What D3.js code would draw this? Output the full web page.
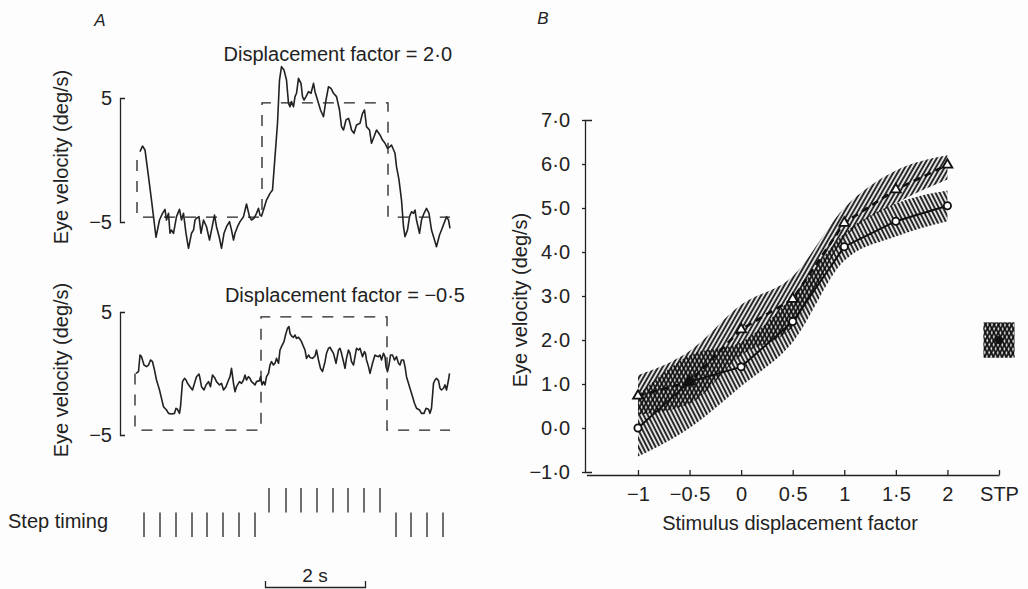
<!DOCTYPE html>
<html><head><meta charset="utf-8">
<script src="https://cdn.jsdelivr.net/npm/d3@7"></script>
<style>
html,body{margin:0;padding:0;background:#fdfdfd;}
svg{display:block;font-family:"Liberation Sans",Arial,Helvetica,sans-serif;}
text{fill:#222;}
</style></head>
<body>
<svg id="chart" width="1028" height="589"></svg>
<script>
// ---------- Panel A data ----------
const traceTopT = [0.10,0.15,0.20,0.27,0.33,0.37,0.42,0.49,0.55,0.60,0.63,0.67,0.70,0.73,0.77,0.83,0.89,0.93,0.97,1.02,1.07,1.13,1.17,1.20,1.23,1.28,1.32,1.37,1.43,1.49,1.53,1.59,1.63,1.69,1.73,1.78,1.83,1.89,1.93,1.97,2.00,2.05,2.10,2.17,2.23,2.29,2.33,2.38,2.43,2.47,2.50,2.53,2.57,2.63,2.70,2.75,2.80,2.85,2.89,2.93,2.98,3.03,3.07,3.10,3.13,3.17,3.20,3.23,3.27,3.32,3.35,3.38,3.42,3.47,3.52,3.57,3.60,3.67,3.71,3.77,3.82,3.87,3.92,3.97,4.03,4.09,4.13,4.17,4.22,4.27,4.30,4.33,4.38,4.43,4.50,4.55,4.59,4.63,4.69,4.73,4.78,4.83,4.90,4.95,5.00,5.05,5.10,5.13,5.20,5.23,5.28,5.33,5.37,5.40,5.45,5.49,5.53,5.57,5.60,5.63,5.69,5.73,5.78,5.83,5.88,5.93,5.98,6.03,6.09,6.13,6.18,6.23,6.27,6.30];
const traceTopV = [0.67,1.13,0.81,-1.34,-3.23,-4.57,-6.23,-4.84,-4.3,-3.98,-4.84,-4.3,-5.91,-5.65,-5.91,-4.57,-3.98,-4.84,-4.3,-5.91,-7.12,-5.91,-5.65,-4.84,-4.7,-4.57,-5.91,-4.84,-5.38,-6.45,-5.65,-4.44,-5.38,-6.31,-7.12,-5.91,-5.38,-4.97,-5.65,-6.45,-5.91,-5.38,-4.97,-4.57,-3.55,-4.57,-4.84,-4.7,-4.3,-3.9,-4.44,-4.52,-4.03,-3.23,-2.69,-2.42,0.27,2.96,6.45,7.53,7.26,6.45,4.57,4.3,4.71,4.3,5.11,5.38,6.59,6.18,5.11,4.84,5.11,5.51,5.38,6.18,5.51,4.57,4.03,3.49,4.84,5.91,5.78,5.38,5.11,4.03,2.69,2.42,3.23,3.36,2.96,2.42,2.15,2.82,2.96,3.76,4.03,2.69,2.42,1.35,1.88,2.42,2.02,1.61,1.35,0.94,1.08,1.21,0.54,-0.54,-1.61,-3.23,-5.38,-6.18,-5.65,-4.57,-4.17,-4.3,-4.03,-4.84,-5.91,-4.84,-4.3,-3.9,-4.3,-5.65,-6.31,-6.99,-6.05,-5.65,-5.11,-4.57,-4.84,-5.51];

const traceBotT = [0.02,0.07,0.10,0.13,0.18,0.23,0.27,0.31,0.35,0.39,0.43,0.49,0.53,0.57,0.63,0.67,0.73,0.79,0.82,0.85,0.89,0.91,0.95,0.99,1.02,1.05,1.10,1.15,1.19,1.23,1.28,1.30,1.33,1.38,1.42,1.47,1.51,1.55,1.60,1.63,1.69,1.73,1.77,1.82,1.87,1.90,1.93,1.97,2.00,2.03,2.09,2.13,2.17,2.20,2.23,2.27,2.30,2.33,2.37,2.40,2.43,2.49,2.51,2.54,2.57,2.60,2.63,2.67,2.70,2.73,2.77,2.80,2.83,2.87,2.90,2.93,2.98,3.01,3.05,3.08,3.10,3.13,3.17,3.20,3.23,3.27,3.30,3.33,3.37,3.40,3.43,3.47,3.50,3.55,3.60,3.63,3.67,3.71,3.75,3.80,3.83,3.87,3.90,3.93,3.97,4.02,4.07,4.10,4.13,4.17,4.20,4.23,4.27,4.30,4.33,4.37,4.40,4.43,4.47,4.50,4.55,4.59,4.61,4.63,4.67,4.70,4.75,4.80,4.83,4.87,4.90,4.93,4.97,5.00,5.02,5.05,5.08,5.11,5.15,5.19,5.23,5.27,5.30,5.33,5.37,5.40,5.43,5.49,5.53,5.59,5.63,5.69,5.73,5.78,5.82,5.87,5.90,5.93,5.97,6.00,6.03,6.07,6.10,6.13,6.17,6.20,6.23,6.27,6.29];
const traceBotV = [0.01,0.15,1.5,1.37,0.69,0.56,0.69,1.1,0.96,0.28,-0.53,-1.34,-2.02,-2.7,-2.97,-3.24,-3.29,-3.24,-2.83,-2.91,-3.24,-2.7,-0.66,-0.39,-0.53,-0.8,-1.07,-1.34,-0.8,-0.26,-0.04,-0.39,-1.07,-1.34,-0.93,-0.66,-1.07,-0.12,-0.39,-0.66,-0.93,-0.8,-1.34,-1.07,-0.53,-0.26,0.42,-0.8,-1.48,-1.07,-0.66,-0.8,-0.53,-0.12,-0.53,-0.26,-0.39,-0.66,-0.8,-0.93,-0.66,-0.58,-0.26,-0.93,-0.66,-0.93,-0.26,0.01,0.69,0.96,0.69,0.83,1.23,0.83,1.91,2.18,2.59,3.13,3.67,3.81,3.27,3.05,2.94,3.13,2.86,2.94,2.78,2.59,2.18,1.91,1.23,1.5,1.31,1.23,1.42,1.91,1.1,0.42,0.15,0.96,1.64,2.05,2.13,1.91,1.64,0.83,1.91,2.05,1.64,0.96,0.42,1.23,1.91,1.64,0.96,0.69,1.37,2.05,1.91,2.05,1.37,1.78,1.64,1.1,0.56,0.01,0.83,1.5,1.42,1.37,1.5,1.1,1.64,1.37,0.56,0.15,0.69,1.5,1.5,1.1,1.37,0.83,0.69,1.1,1.1,0.56,-0.26,-1.07,-1.61,-2.42,-2.83,-2.97,-3.24,-3.24,-2.83,-2.91,-3.24,-2.83,-0.8,-0.53,-0.39,-0.58,-1.2,-1.34,-1.2,-0.93,-1.34,-0.53,0.01];

// stimulus (dashed) velocity steps
const stimTopT = [0.04, 2.54, 5.06, 6.3];
const stimBotT = [0.0, 2.52, 5.04, 6.3];
const stimLevels = [0, -4.6, 4.6, -4.6];

// step timing marks (s)
const stepsLow = [0.18,0.5,0.82,1.14,1.44,1.76,2.08,2.4,5.22,5.52,5.84,6.16];
const stepsHigh = [2.68,3.02,3.32,3.64,3.96,4.26,4.58,4.9];
const scaleBarT = [2.6, 4.6];

// ---------- Panel B data ----------
const factorValues = [-1, -0.5, 0, 0.5, 1, 1.5, 2];
const xTickValues = [-1, -0.5, 0, 0.5, 1, 1.5, 2, 2.5];
const xTickLabels = ["\u22121","\u22120\u00b75","0","0\u00b75","1","1\u00b75","2","STP"];
const yTickValues = [-1,0,1,2,3,4,5,6,7];
const triMean = [0.73, 1.05, 2.24, 2.93, 4.66, 5.42, 5.98];
const triLo   = [0.30, 0.55, 1.65, 2.30, 4.30, 5.10, 5.65];
const triHi   = [1.20, 1.75, 2.80, 3.45, 5.00, 5.85, 6.20];
const circMean = [0.00, 1.05, 1.39, 2.42, 4.12, 4.70, 5.05];
const circLo   = [-0.65, 0.00, 0.95, 1.95, 3.80, 4.35, 4.70];
const circHi   = [0.75, 1.65, 1.95, 3.00, 4.42, 5.10, 5.40];
const stpX = 2.5, stpMean = 2.0, stpLo = 1.6, stpHi = 2.4, stpHalfWidth = 0.15;

// ---------- drawing ----------
const svg = d3.select("#chart");
const ink = "#222";
const FONT = 20;

const defs = svg.append("defs");
function hatch(id, angle){
  const p = defs.append("pattern").attr("id", id).attr("patternUnits","userSpaceOnUse")
    .attr("width", 3.8).attr("height", 10).attr("patternTransform", `rotate(${angle})`);
  p.append("line").attr("x1",1.2).attr("x2",1.2).attr("y1",0).attr("y2",10)
    .attr("stroke", "#0d0d0d").attr("stroke-width", 1.9);
}
hatch("hTri", 30);
hatch("hCirc", -27);

// Panel A scales
const xA = d3.scaleLinear().domain([0, 6.3]).range([135, 450]);
const yTop = d3.scaleLinear().domain([-5, 5]).range([222, 98]);
const yBot = d3.scaleLinear().domain([-5, 5]).range([435, 312]);
const rowY = d3.scaleBand().domain(["high","low"]).range([488, 537]);

svg.append("text").attr("x", 100).attr("y", 26).attr("text-anchor","middle")
  .style("font-style","italic").style("font-size","17px").text("A");
svg.append("text").attr("x", 543).attr("y", 24).attr("text-anchor","middle")
  .style("font-style","italic").style("font-size","17px").text("B");

function tracePanel(yS, tT, tV, sT, title, titleX, titleY, labelY){
  const ax = d3.axisLeft(yS).tickValues([-5,5]).tickSizeInner(0).tickSizeOuter(-5).tickPadding(8);
  const g = svg.append("g").attr("transform","translate(120,0)").call(ax);
  g.select(".domain").attr("stroke", ink).attr("stroke-width",1.3);
  g.selectAll("text").style("font-size", FONT+"px").attr("fill", ink).style("font-family","inherit");
  // stimulus dashed
  const stimLine = d3.line().x((d,i)=>xA(sT[i])).y(d=>yS(d)).curve(d3.curveStepBefore);
  svg.append("path").attr("d", stimLine(stimLevels)).attr("fill","none")
    .attr("stroke", ink).attr("stroke-width",1.3).attr("stroke-dasharray","11,10");
  // trace
  const tr = d3.line().x((d,i)=>xA(tT[i])).y(d=>yS(d));
  svg.append("path").attr("d", tr(tV)).attr("fill","none").attr("stroke", ink)
    .attr("stroke-width",1.6).attr("stroke-linejoin","round");
  svg.append("text").attr("x", titleX).attr("y", titleY).attr("text-anchor","end")
    .style("font-size", FONT+"px").text(title);
  svg.append("text").attr("transform", `translate(68,${labelY}) rotate(-90)`)
    .attr("text-anchor","middle").style("font-size", FONT+"px").text("Eye velocity (deg/s)");
}
tracePanel(yTop, traceTopT, traceTopV, stimTopT, "Displacement factor = 2\u00b70", 452, 61, 157);
tracePanel(yBot, traceBotT, traceBotV, stimBotT, "Displacement factor = \u22120\u00b75", 465, 302, 370);

// step timing
svg.selectAll("line.stepL").data(stepsLow).join("line").attr("class","stepL")
  .attr("x1", d=>xA(d)).attr("x2", d=>xA(d))
  .attr("y1", rowY("low")).attr("y2", rowY("low")+rowY.bandwidth())
  .attr("stroke", ink).attr("stroke-width",1.3);
svg.selectAll("line.stepH").data(stepsHigh).join("line").attr("class","stepH")
  .attr("x1", d=>xA(d)).attr("x2", d=>xA(d))
  .attr("y1", rowY("high")).attr("y2", rowY("high")+rowY.bandwidth())
  .attr("stroke", ink).attr("stroke-width",1.3);
svg.append("text").attr("x", 8).attr("y", 528).style("font-size", FONT+"px").text("Step timing");

// scale bar
const sb = d3.axisBottom(d3.scaleLinear().domain(scaleBarT).range([xA(scaleBarT[0]), xA(scaleBarT[1])]))
  .tickValues([]).tickSizeOuter(-6);
const sbg = svg.append("g").attr("transform","translate(0,587)").call(sb);
sbg.select(".domain").attr("stroke", ink).attr("stroke-width",1.3);
svg.append("text").attr("x", (xA(scaleBarT[0])+xA(scaleBarT[1]))/2).attr("y", 582)
  .attr("text-anchor","middle").style("font-size","19px").text("2 s");

// ---------- Panel B ----------
const xB = d3.scaleLinear().domain([-1.5, 2.5]).range([586.4, 999]);
const yB = d3.scaleLinear().domain([-1, 7]).range([472, 120]);

const areaT = d3.area().x((d,i)=>xB(factorValues[i])).y0((d,i)=>yB(triLo[i])).y1(d=>yB(d)).curve(d3.curveMonotoneX);
const areaC = d3.area().x((d,i)=>xB(factorValues[i])).y0((d,i)=>yB(circLo[i])).y1(d=>yB(d)).curve(d3.curveMonotoneX);
svg.append("path").attr("d", areaC(circHi)).attr("fill","url(#hCirc)");
svg.append("path").attr("d", areaT(triHi)).attr("fill","url(#hTri)");

// STP
const stpRect = [ "url(#hCirc)", "url(#hTri)" ];
svg.selectAll("rect.stp").data(stpRect).join("rect").attr("class","stp")
  .attr("x", xB(stpX - stpHalfWidth)).attr("width", xB(stpX+stpHalfWidth)-xB(stpX-stpHalfWidth))
  .attr("y", yB(stpHi)).attr("height", yB(stpLo)-yB(stpHi)).attr("fill", d=>d);
svg.append("circle").attr("cx", xB(stpX)).attr("cy", yB(stpMean)).attr("r", 4).attr("fill", "#111");

// lines
const lineT = d3.line().x((d,i)=>xB(factorValues[i])).y(d=>yB(d));
svg.append("path").attr("d", lineT(triMean)).attr("fill","none").attr("stroke","#111")
  .attr("stroke-width",2.6).attr("stroke-dasharray","7,5");
svg.append("path").attr("d", lineT(circMean)).attr("fill","none").attr("stroke","#111")
  .attr("stroke-width",2);

// markers
const shared = factorValues.map((f,i)=>Math.abs(triMean[i]-circMean[i])<0.02);
svg.selectAll("path.tri").data(triMean).join("path").attr("class","tri")
  .attr("d", d3.symbol().type(d3.symbolTriangle).size(42))
  .attr("transform",(d,i)=>`translate(${xB(factorValues[i])},${yB(d)})`)
  .attr("fill",(d,i)=>shared[i]?"#111":"#fdfdfd").attr("stroke","#111").attr("stroke-width",1.8);
svg.selectAll("circle.circ").data(circMean).join("circle").attr("class","circ")
  .attr("cx",(d,i)=>xB(factorValues[i])).attr("cy", d=>yB(d)).attr("r", 3.6)
  .attr("fill",(d,i)=>shared[i]?"#111":"#fdfdfd").attr("stroke","#111").attr("stroke-width",1.8);

// axes
const yAxB = d3.axisLeft(yB).tickValues(yTickValues).tickSizeInner(3).tickSizeOuter(-7).tickPadding(12)
  .tickFormat(d => (d<0?"\u2212":"") + Math.abs(d) + "\u00b70");
const gy = svg.append("g").attr("transform","translate(585,0)").call(yAxB);
gy.selectAll("path,line").attr("stroke", ink).attr("stroke-width",1.3);
gy.selectAll("text").style("font-size", FONT+"px").style("font-family","inherit").attr("fill", ink);

const xAxB = d3.axisBottom(xB).tickValues(xTickValues).tickSizeInner(-5).tickSizeOuter(0).tickPadding(12)
  .tickFormat((d,i)=>xTickLabels[i]);
const gx = svg.append("g").attr("transform","translate(0,475)").call(xAxB);
gx.selectAll("path,line").attr("stroke", ink).attr("stroke-width",1.3);
gx.selectAll("text").style("font-size", FONT+"px").style("font-family","inherit").attr("fill", ink);

svg.append("text").attr("x", 790).attr("y", 530).attr("text-anchor","middle")
  .style("font-size", FONT+"px").text("Stimulus displacement factor");
svg.append("text").attr("transform","translate(527,300) rotate(-90)").attr("text-anchor","middle")
  .style("font-size", FONT+"px").text("Eye velocity (deg/s)");
</script>
</body></html>
